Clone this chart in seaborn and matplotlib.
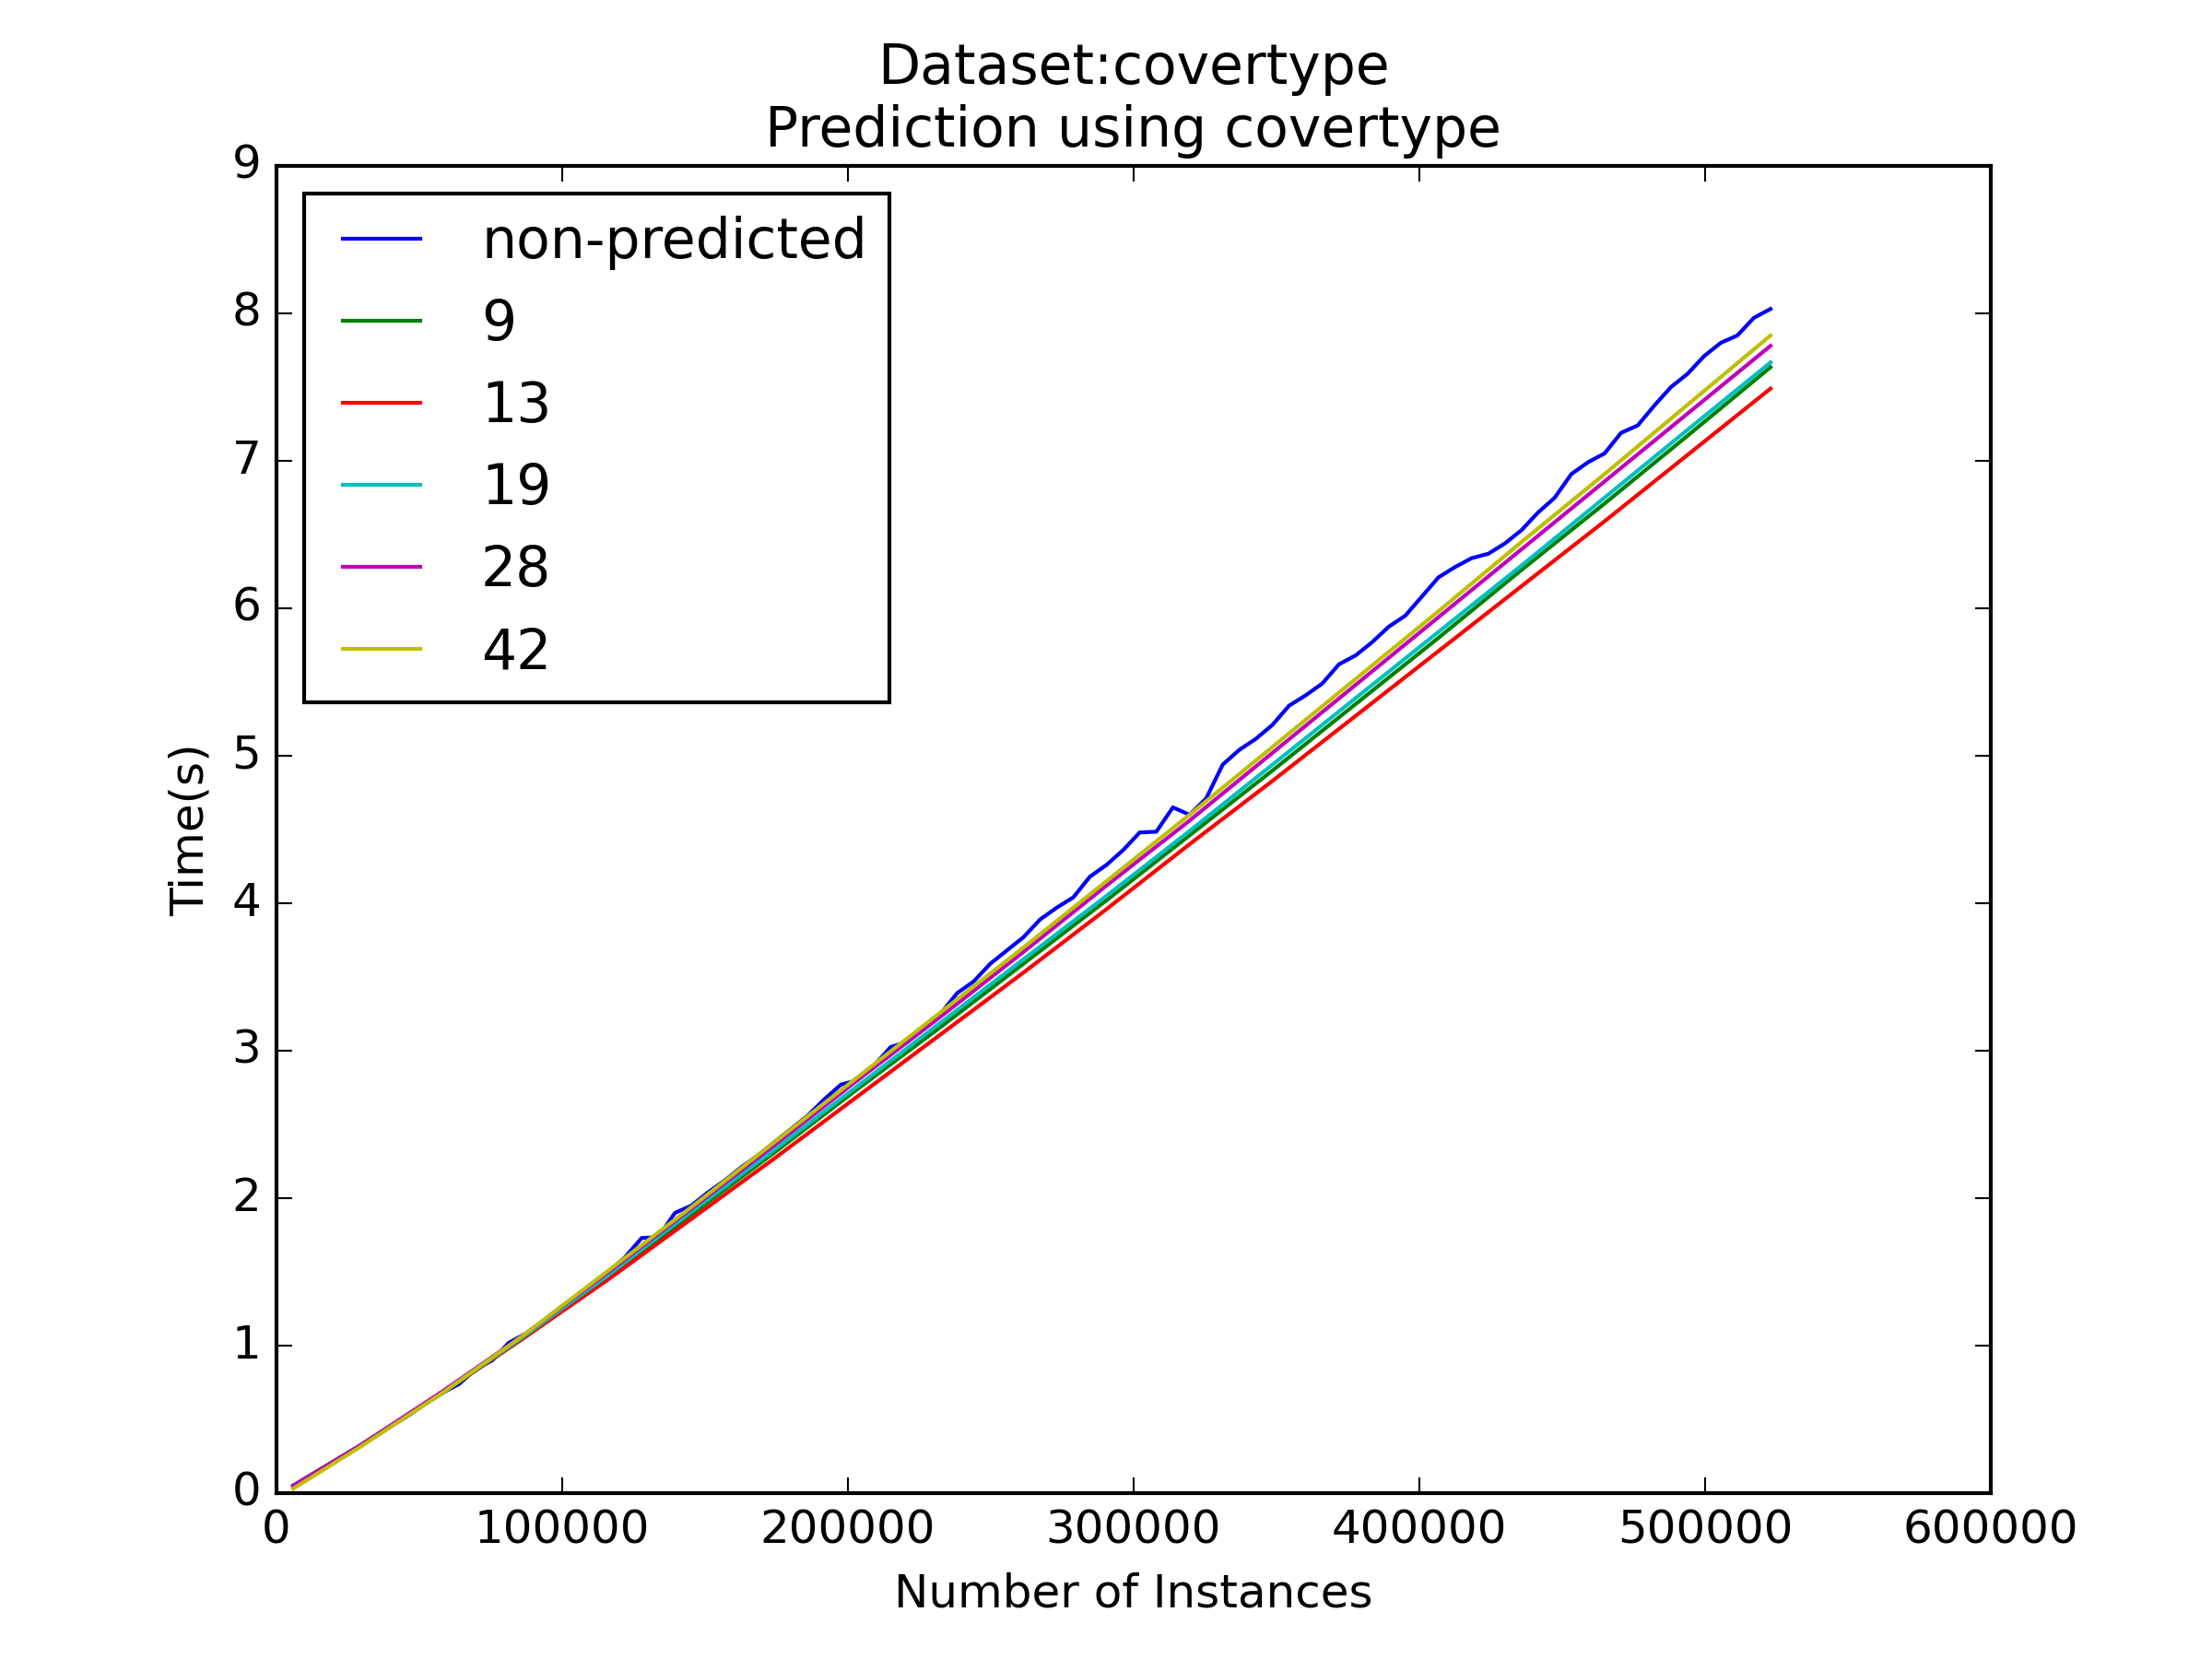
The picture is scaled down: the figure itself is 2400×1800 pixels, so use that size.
import matplotlib
matplotlib.use("Agg")
import matplotlib.pyplot as plt
import seaborn as sns
import pandas as pd

# ---- data ----
instances = [5810, 11620, 17430, 23240, 29050, 34860, 40670, 46480, 52290, 58100,
             63910, 69720, 75530, 81340, 87150, 92960, 98770, 104580, 110390, 116200,
             122010, 127820, 133630, 139440, 145250, 151060, 156870, 162680, 168490, 174300,
             180110, 185920, 191730, 197540, 203350, 209160, 214970, 220780, 226590, 232400,
             238210, 244020, 249830, 255640, 261450, 267260, 273070, 278880, 284690, 290500,
             296310, 302120, 307930, 313740, 319550, 325360, 331170, 336980, 342790, 348600,
             354410, 360220, 366030, 371840, 377650, 383460, 389270, 395080, 400890, 406700,
             412510, 418320, 424130, 429940, 435750, 441560, 447370, 453180, 458990, 464800,
             470610, 476420, 482230, 488040, 493850, 499660, 505470, 511280, 517090, 522900]

non_predicted = [0.05, 0.11, 0.18, 0.25, 0.32, 0.39, 0.46, 0.53, 0.61, 0.68,
                 0.74, 0.84, 0.90, 1.02, 1.08, 1.16, 1.25, 1.33, 1.42, 1.50,
                 1.60, 1.73, 1.735, 1.90, 1.95, 2.04, 2.12, 2.21, 2.29, 2.38,
                 2.47, 2.56, 2.67, 2.77, 2.80, 2.90, 3.025, 3.06, 3.15, 3.25,
                 3.39, 3.47, 3.59, 3.68, 3.77, 3.89, 3.97, 4.04, 4.18, 4.26,
                 4.36, 4.48, 4.485, 4.65, 4.60, 4.71, 4.94, 5.04, 5.115, 5.21,
                 5.34, 5.41, 5.49, 5.62, 5.68, 5.77, 5.875, 5.95, 6.08, 6.21,
                 6.28, 6.34, 6.37, 6.44, 6.53, 6.65, 6.75, 6.91, 6.99, 7.05,
                 7.19, 7.24, 7.375, 7.50, 7.59, 7.71, 7.80, 7.85, 7.97, 8.03]

instances_model = [5810, 29050, 58100, 87150, 116200, 145250, 174300, 203350, 232400, 261450,
                   290500, 319550, 348600, 377650, 406700, 435750, 464800, 493850, 522900]

time_9 = [0.05, 0.32, 0.68, 1.06, 1.47, 1.89, 2.31, 2.74, 3.16, 3.59,
          4.02, 4.46, 4.90, 5.35, 5.80, 6.26, 6.71, 7.17, 7.635]
time_13 = [0.05, 0.32, 0.68, 1.06, 1.45, 1.86, 2.27, 2.69, 3.11, 3.53,
           3.96, 4.40, 4.83, 5.27, 5.71, 6.15, 6.59, 7.04, 7.49]
time_19 = [0.05, 0.32, 0.68, 1.07, 1.48, 1.91, 2.33, 2.76, 3.19, 3.62,
           4.05, 4.49, 4.94, 5.39, 5.84, 6.29, 6.75, 7.21, 7.667]
time_28 = [0.05, 0.32, 0.69, 1.08, 1.50, 1.93, 2.36, 2.80, 3.23, 3.67,
           4.12, 4.56, 5.02, 5.48, 5.94, 6.40, 6.86, 7.32, 7.78]
time_42 = [0.03, 0.31, 0.68, 1.08, 1.51, 1.94, 2.38, 2.82, 3.26, 3.70,
           4.15, 4.60, 5.06, 5.52, 5.98, 6.45, 6.91, 7.38, 7.85]

series_names = ["non-predicted", "9", "13", "19", "28", "42"]
series_colors = ["b", "g", "r", "c", "m", "y"]

# ---- build long-form table ----
frames = [pd.DataFrame({"instances": instances, "time": non_predicted, "series": "non-predicted"})]
for name, vals in zip(series_names[1:], [time_9, time_13, time_19, time_28, time_42]):
    frames.append(pd.DataFrame({"instances": instances_model, "time": vals, "series": name}))
df = pd.concat(frames, ignore_index=True)

plt.style.use("classic")
fig, ax = plt.subplots(figsize=(8, 6), dpi=300)

sns.lineplot(data=df, x="instances", y="time", hue="series", hue_order=series_names,
             palette=dict(zip(series_names, series_colors)), estimator=None,
             sort=True, linewidth=1.0, ax=ax)

ax.set_xlim(0, 600000)
ax.set_ylim(0, 9)
ax.set_xticks([0, 100000, 200000, 300000, 400000, 500000, 600000])
ax.set_yticks(range(0, 10))
ax.ticklabel_format(style="plain", axis="x", useOffset=False)
ax.set_xlabel("Number of Instances")
ax.set_ylabel("Time(s)")
ax.set_title("Dataset:covertype\nPrediction using covertype")

handles, labels = ax.get_legend_handles_labels()
ax.legend(handles, labels, loc="upper left")

fig.savefig("out.png", dpi=300)
